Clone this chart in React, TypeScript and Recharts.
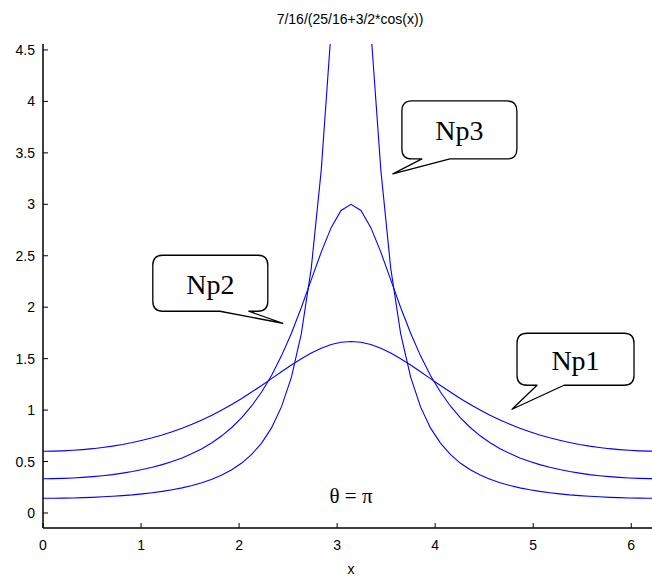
import { LineChart, Line, XAxis, YAxis, ReferenceDot } from "recharts";

// samples on [0, 2*pi]
const X_VALUES = [
  0, 0.101, 0.203, 0.304, 0.405, 0.507, 0.608, 0.709, 0.811, 0.912, 1.013, 1.115, 1.216, 1.317, 1.419, 1.52,
  1.621, 1.723, 1.824, 1.925, 2.027, 2.128, 2.23, 2.331, 2.432, 2.534, 2.635, 2.736, 2.838, 2.939, 3.04, 3.142,
  3.243, 3.344, 3.446, 3.547, 3.648, 3.75, 3.851, 3.952, 4.054, 4.155, 4.256, 4.358, 4.459, 4.56, 4.662, 4.763,
  4.864, 4.966, 5.067, 5.168, 5.27, 5.371, 5.472, 5.574, 5.675, 5.776, 5.878, 5.979, 6.081, 6.182, 6.283,
];

const NP1 = [
  0.6, 0.601, 0.604, 0.609, 0.616, 0.625, 0.637, 0.65, 0.666, 0.685, 0.707, 0.731, 0.758, 0.789, 0.824, 0.862,
  0.904, 0.95, 1.0, 1.055, 1.113, 1.175, 1.239, 1.306, 1.372, 1.438, 1.499, 1.555, 1.601, 1.637, 1.659, 1.667,
  1.659, 1.637, 1.601, 1.555, 1.499, 1.438, 1.372, 1.306, 1.239, 1.175, 1.113, 1.055, 1.0, 0.95, 0.904, 0.862,
  0.824, 0.789, 0.758, 0.731, 0.707, 0.685, 0.666, 0.65, 0.637, 0.625, 0.616, 0.609, 0.604, 0.601, 0.6,
];

const NP2 = [
  0.333, 0.334, 0.336, 0.34, 0.346, 0.353, 0.362, 0.373, 0.387, 0.403, 0.422, 0.444, 0.47, 0.5, 0.535, 0.577,
  0.625, 0.683, 0.75, 0.831, 0.926, 1.04, 1.176, 1.337, 1.527, 1.747, 1.997, 2.266, 2.535, 2.773, 2.94, 3.0,
  2.94, 2.773, 2.535, 2.266, 1.997, 1.747, 1.527, 1.337, 1.176, 1.04, 0.926, 0.831, 0.75, 0.683, 0.625, 0.577,
  0.535, 0.5, 0.47, 0.444, 0.422, 0.403, 0.387, 0.373, 0.362, 0.353, 0.346, 0.34, 0.336, 0.334, 0.333,
];

const NP3 = [
  0.143, 0.143, 0.144, 0.146, 0.149, 0.152, 0.157, 0.162, 0.169, 0.176, 0.186, 0.197, 0.21, 0.226, 0.244, 0.267,
  0.294, 0.328, 0.369, 0.42, 0.485, 0.569, 0.679, 0.827, 1.031, 1.32, 1.743, 2.377, 3.332, 4.694, 6.233, 7.0,
  6.233, 4.694, 3.332, 2.377, 1.743, 1.32, 1.031, 0.827, 0.679, 0.569, 0.485, 0.42, 0.369, 0.328, 0.294, 0.267,
  0.244, 0.226, 0.21, 0.197, 0.186, 0.176, 0.169, 0.162, 0.157, 0.152, 0.149, 0.146, 0.144, 0.143, 0.143,
];

const X_TICKS = [0, 1, 2, 3, 4, 5, 6];
const Y_TICKS = [0, 0.5, 1, 1.5, 2, 2.5, 3, 3.5, 4, 4.5];

const TITLE = "7/16/(25/16+3/2*cos(x))";
const X_LABEL = "x";
const THETA_TEXT = "\u03b8 = \u03c0";
const THETA_AT = { x: 3.1416, y: 0.1 };

// tail tip of each callout, in data units
const CALLOUTS = [
  { label: "Np1", x: 4.784, y: 1.008 },
  { label: "Np2", x: 2.446, y: 1.844 },
  { label: "Np3", x: 3.569, y: 3.295 },
];

// bubble box and tail base, pixels relative to the tail tip
const BUBBLE_GEOM: Record<string, { l: number; t: number; r: number; b: number; b1: number; b2: number }> = {
  Np1: { l: 5, t: -76, r: 122, b: -24, b1: 25, b2: 52 },
  Np2: { l: -130, t: -68, r: -15, b: -12, b1: -63, b2: -34 },
  Np3: { l: 9, t: -73, r: 124, b: -15, b1: 29, b2: 57 },
};

const rows = X_VALUES.map((x, i) => ({ x, np1: NP1[i], np2: NP2[i], np3: NP3[i] }));

const SANS = "'Liberation Sans', Arial, Helvetica, sans-serif";
const SERIF = "'Liberation Serif', 'Times New Roman', serif";

const BottomTick = ({ x, y, payload }: any) => (
  <g>
    <line x1={x} x2={x} y1={y} y2={y - 5} stroke="#000" strokeWidth={1} />
    <text x={x} y={y + 17} textAnchor="middle" dominantBaseline="central" fontFamily={SANS} fontSize={14} fill="#000">
      {payload.value}
    </text>
  </g>
);

const TopTick = ({ x, y }: any) => <line x1={x} x2={x} y1={y} y2={y + 5} stroke="#000" strokeWidth={1} />;

const LeftTick = ({ x, y, payload }: any) => (
  <g>
    <line x1={x} x2={x + 5} y1={y} y2={y} stroke="#000" strokeWidth={1} />
    <text x={x - 8} y={y} textAnchor="end" dominantBaseline="central" fontFamily={SANS} fontSize={14} fill="#000">
      {payload.value}
    </text>
  </g>
);

const Bubble = ({ cx, cy, label }: any) => {
  const g = BUBBLE_GEOM[label];
  const L = cx + g.l;
  const R = cx + g.r;
  const T = cy + g.t;
  const B = cy + g.b;
  const r = 10;
  const d = [
    `M ${L + r} ${T}`,
    `H ${R - r}`,
    `Q ${R} ${T} ${R} ${T + r}`,
    `V ${B - r}`,
    `Q ${R} ${B} ${R - r} ${B}`,
    `H ${cx + g.b2}`,
    `L ${cx} ${cy}`,
    `L ${cx + g.b1} ${B}`,
    `H ${L + r}`,
    `Q ${L} ${B} ${L} ${B - r}`,
    `V ${T + r}`,
    `Q ${L} ${T} ${L + r} ${T}`,
    "Z",
  ].join(" ");
  return (
    <g>
      <path d={d} fill="#fff" stroke="#000" strokeWidth={1.3} strokeLinejoin="round" />
      <text
        x={(L + R) / 2}
        y={(T + B) / 2 + 1}
        textAnchor="middle"
        dominantBaseline="central"
        fontFamily={SERIF}
        fontSize={28}
        fill="#000"
      >
        {label}
      </text>
    </g>
  );
};

const ThetaText = ({ cx, cy }: any) => (
  <text x={cx} y={cy} textAnchor="middle" fontFamily={SERIF} fontSize={21} fill="#000">
    {THETA_TEXT}
  </text>
);

export default function App() {
  return (
    <div style={{ position: "absolute", left: 0, top: 0, width: 652, height: 576, overflow: "hidden", background: "#fff" }}>
      <div
        style={{
          position: "absolute",
          left: 0,
          top: 11,
          width: 700,
          textAlign: "center",
          fontFamily: SANS,
          fontSize: 14,
          color: "#000",
        }}
      >
        {TITLE}
      </div>
      <LineChart width={659} height={576} data={rows} margin={{ top: 44, right: 0, bottom: 0, left: 0 }}>
        <XAxis
          dataKey="x"
          type="number"
          domain={[0, 2 * Math.PI]}
          ticks={X_TICKS}
          allowDataOverflow
          height={48}
          tickSize={0}
          tickMargin={0}
          tickLine={false}
          tick={<BottomTick />}
          axisLine={{ stroke: "#000", strokeWidth: 1.5 }}
          label={{ value: X_LABEL, position: "insideBottom", offset: 2, fontFamily: SANS, fontSize: 14, fill: "#000" }}
        />
        <XAxis
          xAxisId="top"
          dataKey="x"
          type="number"
          orientation="top"
          domain={[0, 2 * Math.PI]}
          ticks={X_TICKS}
          allowDataOverflow
          height={0}
          tickSize={0}
          tickMargin={0}
          tickLine={false}
          tick={<TopTick />}
          axisLine={{ stroke: "#000", strokeWidth: 1.5 }}
        />
        <YAxis
          type="number"
          domain={[-0.146, 4.558]}
          ticks={Y_TICKS}
          allowDataOverflow
          width={43}
          tickSize={0}
          tickMargin={0}
          tickLine={false}
          tick={<LeftTick />}
          axisLine={{ stroke: "#000", strokeWidth: 1.5 }}
        />
        <Line dataKey="np1" type="linear" stroke="#0000ff" strokeWidth={1.1} dot={false} isAnimationActive={false} />
        <Line dataKey="np2" type="linear" stroke="#0000ff" strokeWidth={1.1} dot={false} isAnimationActive={false} />
        <Line dataKey="np3" type="linear" stroke="#0000ff" strokeWidth={1.1} dot={false} isAnimationActive={false} />
        {CALLOUTS.map((c) => (
          <ReferenceDot
            key={c.label}
            x={c.x}
            y={c.y}
            r={0}
            ifOverflow="visible"
            shape={(p: any) => <Bubble {...p} label={c.label} />}
          />
        ))}
        <ReferenceDot x={THETA_AT.x} y={THETA_AT.y} r={0} ifOverflow="visible" shape={(p: any) => <ThetaText {...p} />} />
      </LineChart>
    </div>
  );
}
